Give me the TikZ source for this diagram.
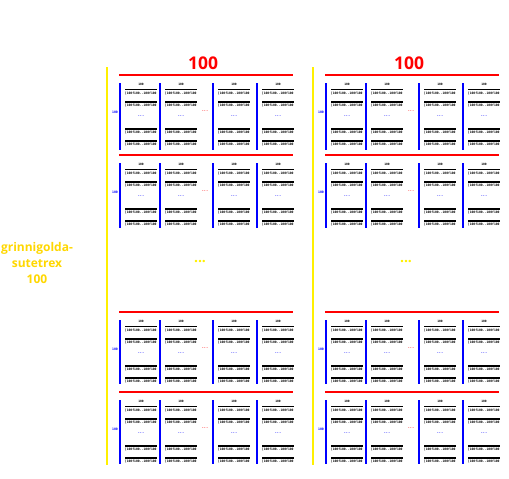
\documentclass[tikz,border=0pt]{standalone}
\usepackage{fontspec}
\newfontfamily\labfont{Open Sans}
\newfontfamily\monofont{DejaVu Sans Mono}
\definecolor{goldtext}{RGB}{255,215,0}
\definecolor{yline}{RGB}{255,240,0}
\begin{document}
\begin{tikzpicture}[x=1pt,y=-1pt,
  redline/.style={red, line width=2pt},
  blueline/.style={blue, line width=2pt},
  yellowline/.style={yline, line width=2pt},
  barline/.style={black, line width=1.3pt},
  celltext/.style={font=\monofont\bfseries\fontsize{3.1}{3.1}\selectfont, inner sep=0pt, text=black},
  collabel/.style={font=\monofont\bfseries\fontsize{3}{3}\selectfont, inner sep=0pt},
  sidelabel/.style={font=\monofont\bfseries\fontsize{3.2}{3.2}\selectfont, inner sep=0pt, text=blue},
  bluedots/.style={font=\bfseries\fontsize{5.5}{5.5}\selectfont, inner sep=0pt, text=blue},
  reddots/.style={font=\bfseries\fontsize{5.5}{5.5}\selectfont, inner sep=0pt, text=red},
  ydots/.style={font=\labfont\bfseries\fontsize{14}{14}\selectfont, inner sep=0pt, text=yline},
  title/.style={font=\labfont\bfseries\fontsize{17.5}{17.5}\selectfont, inner sep=0pt, text=red},
  leftlabel/.style={font=\labfont\bfseries\fontsize{12}{16}\selectfont, align=center, inner sep=0pt, text=goldtext}]
\useasboundingbox (0,0) rectangle (509,479);

\node[leftlabel] (lab) at (37,263) {grinnigolda-\\sutetrex\\100};

\foreach \f/\dx in {L/0, R/206} {
  \node[title] (title\f) at (203+\dx,63) {100};
  \coordinate (ytop\f) at (107+\dx,67);
  \coordinate (ybot\f) at (107+\dx,465);
  \draw[yellowline] (ytop\f) -- (ybot\f);
  \node[ydots] (ydots\f) at (200+\dx,262) {...};
  \foreach \b/\T/\H in {1/83/67, 2/163/65, 3/320/64, 4/400/64} {
    \coordinate (rl\f\b) at (119+\dx,\T-8);
    \coordinate (rr\f\b) at (293+\dx,\T-8);
    \draw[redline] (rl\f\b) -- (rr\f\b);
    \node[sidelabel] (side\f\b) at (115+\dx,\T+29) {100};
    \node[reddots] (rd\f\b) at (205+\dx,\T+28.5) {...};
    \foreach \c/\xl in {1/120, 2/160, 3/213, 4/257} {
      \coordinate (bt\f\b\c) at (\xl+\dx,\T);
      \coordinate (bb\f\b\c) at (\xl+\dx,\T+\H);
      \draw[blueline] (bt\f\b\c) -- (bb\f\b\c);
      \node[collabel] (cl\f\b\c) at (\xl+21+\dx,\T+1.5) {100};
      \node[bluedots] (bd\f\b\c) at (\xl+21+\dx,\T+33) {...};
      \foreach \r/\yb in {1/6.5, 2/19, 3/46, 4/58} {
        \coordinate (sl\f\b\c\r) at (\xl+5+\dx,\T+\yb);
        \coordinate (sr\f\b\c\r) at (\xl+36.5+\dx,\T+\yb);
        \draw[barline] (sl\f\b\c\r) -- (sr\f\b\c\r);
        \node[celltext] (ct\f\b\c\r) at (\xl+20.75+\dx,\T+\yb+3.8) {[100f100..100f100};
      }
    }
  }
}
\end{tikzpicture}
\end{document}
